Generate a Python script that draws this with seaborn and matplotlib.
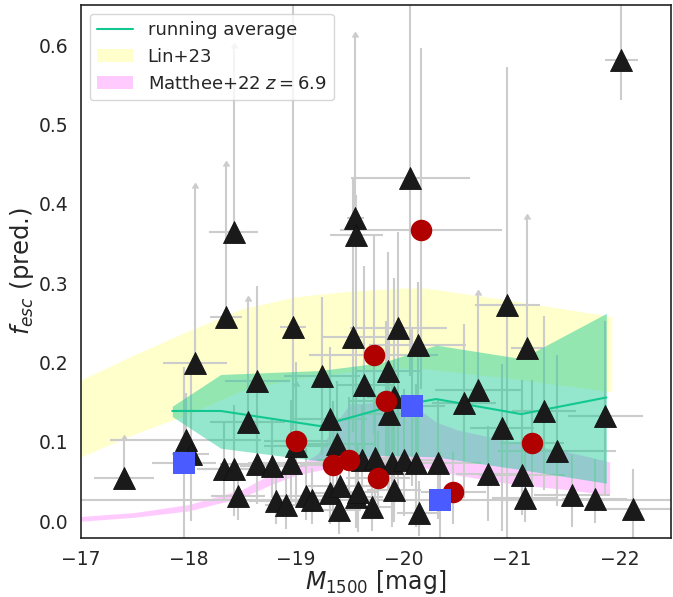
import numpy as np
import pandas as pd
import matplotlib
matplotlib.use("Agg")
import matplotlib.pyplot as plt
import seaborn as sns

# ---------------- data ----------------
# triangles (main sample)
tri_M = [-17.40, -17.975, -18.02, -18.06, -18.33, -18.35, -18.42, -18.42, -18.46, -18.55,
         -18.64, -18.64, -18.78, -18.81, -18.91, -18.95, -18.97, -19.00, -19.09, -19.15,
         -19.24, -19.31, -19.31, -19.38, -19.40, -19.41, -19.53, -19.55, -19.56, -19.56,
         -19.57, -19.61, -19.63, -19.70, -19.73, -19.85, -19.86, -19.89, -19.91, -19.91,
         -19.95, -20.00, -20.06, -20.11, -20.13, -20.14, -20.32, -20.56, -20.69, -20.78,
         -20.91, -20.96, -21.10, -21.12, -21.14, -21.30, -21.42, -21.56, -21.77, -21.87,
         -22.02, -22.13]
tri_f = [0.055, 0.102, 0.085, 0.200, 0.066, 0.257, 0.066, 0.365, 0.032, 0.125,
         0.177, 0.072, 0.069, 0.026, 0.020, 0.073, 0.245, 0.095, 0.032, 0.027,
         0.183, 0.129, 0.036, 0.097, 0.014, 0.045, 0.232, 0.382, 0.361, 0.031,
         0.037, 0.077, 0.172, 0.018, 0.080, 0.189, 0.135, 0.073, 0.156, 0.039,
         0.244, 0.077, 0.433, 0.073, 0.222, 0.011, 0.073, 0.149, 0.165, 0.060,
         0.118, 0.272, 0.058, 0.029, 0.218, 0.139, 0.089, 0.033, 0.028, 0.133,
         0.581, 0.016]
tri_Merr = [0.28, 0.70, 0.17, 0.30, 0.25, 0.15, 0.30, 0.23, 0.25, 0.35,
            0.30, 0.35, 0.30, 0.25, 0.20, 0.40, 0.12, 0.30, 0.25, 0.20,
            0.35, 0.35, 0.25, 0.35, 0.20, 0.30, 0.30, 0.08, 0.25, 0.25,
            0.20, 0.30, 0.25, 0.20, 0.30, 0.30, 0.25, 0.30, 0.25, 0.25,
            0.45, 0.30, 0.55, 0.30, 0.45, 0.20, 0.40, 0.30, 0.40, 0.30,
            0.30, 0.30, 0.40, 0.30, 0.15, 0.30, 0.55, 0.35, 0.30, 0.35,
            0.15, 0.35]
tri_flo = [0.000, 0.030, 0.085, 0.000, 0.040, 0.000, 0.060, 0.000, 0.030, 0.000,
           0.080, 0.050, 0.040, 0.030, 0.030, 0.050, 0.130, 0.000, 0.030, 0.030,
           0.100, 0.080, 0.040, 0.060, 0.030, 0.040, 0.120, 0.000, 0.330, 0.040,
           0.050, 0.050, 0.100, 0.030, 0.060, 0.150, 0.100, 0.080, 0.150, 0.040,
           0.200, 0.070, 0.250, 0.080, 0.150, 0.030, 0.070, 0.120, 0.000, 0.060,
           0.130, 0.300, 0.050, 0.030, 0.000, 0.100, 0.070, 0.040, 0.030, 0.100,
           0.050, 0.040]
tri_fhi = [0.047, 0.060, 0.105, 0.220, 0.060, 0.191, 0.080, 0.232, 0.040, 0.152,
           0.120, 0.060, 0.060, 0.030, 0.050, 0.080, 0.420, 0.075, 0.060, 0.040,
           0.100, 0.090, 0.050, 0.080, 0.040, 0.060, 0.200, 0.229, 0.050, 0.050,
           0.060, 0.070, 0.150, 0.050, 0.080, 0.150, 0.100, 0.100, 0.150, 0.060,
           0.120, 0.090, 0.300, 0.100, 0.080, 0.040, 0.080, 0.100, 0.120, 0.060,
           0.080, 0.300, 0.120, 0.060, 0.163, 0.120, 0.120, 0.050, 0.050, 0.120,
           0.100, 0.050]
tri_lim = [1, 0, 0, 1, 0, 1, 0, 1, 0, 1,
           0, 0, 0, 0, 0, 0, 0, 1, 0, 0,
           0, 0, 0, 0, 0, 0, 0, 1, 0, 0,
           0, 0, 0, 0, 0, 0, 0, 0, 0, 0,
           0, 0, 0, 0, 0, 0, 0, 0, 1, 0,
           0, 0, 0, 0, 1, 0, 0, 0, 0, 0,
           0, 0]

# red circles
red_M = [-19.00, -19.34, -19.49, -19.72, -19.76, -19.83, -20.16, -20.46, -21.19]
red_f = [0.101, 0.071, 0.077, 0.210, 0.054, 0.152, 0.367, 0.037, 0.098]
red_Merr = [0.30, 0.30, 0.30, 0.60, 0.30, 0.35, 0.75, 0.30, 0.30]
red_flo = [0.080, 0.060, 0.060, 0.100, 0.050, 0.100, 0.200, 0.040, 0.080]
red_fhi = [0.100, 0.080, 0.080, 0.150, 0.060, 0.100, 0.230, 0.050, 0.080]

# blue squares
blue_M = [-17.96, -20.08, -20.34]
blue_f = [0.074, 0.145, 0.027]
blue_Merr = [0.30, 0.30, 3.60]
blue_flo = [0.120, 0.100, 0.050]
blue_fhi = [0.120, 0.100, 0.060]

# running average and its band
ra_M = [-17.85, -18.30, -19.22, -19.80, -20.30, -21.09, -21.88]
ra_f = [0.139, 0.139, 0.120, 0.142, 0.154, 0.135, 0.156]
ra_lo = [0.132, 0.092, 0.076, 0.083, 0.081, 0.065, 0.048]
ra_hi = [0.145, 0.185, 0.190, 0.200, 0.222, 0.205, 0.262]

# Lin+23 band
lin_M = [-17.0, -17.5, -18.0, -18.5, -19.0, -19.5, -20.0, -20.2, -21.0, -21.93]
lin_lo = [0.081, 0.110, 0.135, 0.165, 0.180, 0.188, 0.193, 0.192, 0.180, 0.163]
lin_hi = [0.178, 0.210, 0.240, 0.268, 0.283, 0.290, 0.294, 0.294, 0.278, 0.258]

# Matthee+22 z=6.9 band
mat_M = [-17.0, -17.5, -18.0, -18.5, -18.8, -19.0, -19.2, -19.35, -19.5, -19.8,
         -20.1, -20.3, -20.5, -21.0, -21.5, -21.91]
mat_lo = [0.000, 0.005, 0.013, 0.030, 0.048, 0.058, 0.064, 0.067, 0.070, 0.071,
          0.070, 0.064, 0.058, 0.047, 0.040, 0.033]
mat_hi = [0.006, 0.011, 0.021, 0.040, 0.062, 0.068, 0.085, 0.120, 0.148, 0.150,
          0.145, 0.125, 0.115, 0.100, 0.088, 0.075]

# ---------------- plot ----------------
sns.set_theme(style="white")
plt.rcParams['font.family'] = ['DejaVu Sans']
plt.rcParams['mathtext.fontset'] = 'dejavusans'

fig = plt.figure(figsize=(6.73, 5.97), dpi=100)
ax = fig.add_axes([0.120, 0.099, 0.877, 0.893])

green = '#12c890'
ax.fill_between(lin_M, lin_lo, lin_hi, color='#ffff99', alpha=0.5, lw=0,
                zorder=1, label='Lin+23')
ax.fill_between(mat_M, mat_lo, mat_hi, color='#ff99ff', alpha=0.5, lw=0,
                zorder=1, label='Matthee+22 $z=6.9$')

ecol = '#cccccc'


def style_caps(cont):
    for cl in cont.lines[1]:
        cl.set_markerfacecolor(ecol)
        cl.set_markeredgecolor(ecol)
        cl.set_color(ecol)
        cl.set_markersize(5)


lims = np.array(tri_lim, dtype=bool)
for sel, lolim in ((~lims, False), (lims, True)):
    c = ax.errorbar(np.array(tri_M)[sel], np.array(tri_f)[sel],
                    xerr=np.array(tri_Merr)[sel],
                    yerr=[np.array(tri_flo)[sel], np.array(tri_fhi)[sel]],
                    fmt='none', ecolor=ecol, elinewidth=1.5, lolims=lolim,
                    zorder=2)
    style_caps(c)
c = ax.errorbar(red_M, red_f, xerr=red_Merr, yerr=[red_flo, red_fhi], fmt='none',
                ecolor=ecol, elinewidth=1.5, zorder=2)
style_caps(c)
c = ax.errorbar(blue_M, blue_f, xerr=blue_Merr, yerr=[blue_flo, blue_fhi], fmt='none',
                ecolor=ecol, elinewidth=1.5, zorder=2)
style_caps(c)

ax.fill_between(ra_M, ra_lo, ra_hi, color=green, alpha=0.45, lw=0, zorder=3)
sns.lineplot(x=ra_M, y=ra_f, color=green, lw=1.5, ax=ax, zorder=4,
             label='running average', sort=False)

sns.scatterplot(x=tri_M, y=tri_f, marker='^', s=250, color='#1a1a1a',
                edgecolor='#111111', linewidth=0.6, ax=ax, zorder=5, legend=False)
sns.scatterplot(x=red_M, y=red_f, marker='o', s=240, color='#b00000',
                edgecolor='#b00000', linewidth=0, ax=ax, zorder=5, legend=False)
sns.scatterplot(x=blue_M, y=blue_f, marker='s', s=240, color='#4a5cff',
                edgecolor='#4a5cff', linewidth=0, ax=ax, zorder=5, legend=False)

ax.set_xlim(-17, -22.48)
ax.set_ylim(-0.021, 0.651)
ax.set_xticks([-17, -18, -19, -20, -21, -22])
ax.set_yticks([0.0, 0.1, 0.2, 0.3, 0.4, 0.5, 0.6])
ax.tick_params(labelsize=13.5, pad=3)
ax.set_xlabel('$M_{1500}$ [mag]', fontsize=17, labelpad=-1)
ax.set_ylabel('$f_{esc}$ (pred.)', fontsize=17.5, labelpad=2)
for s in ax.spines.values():
    s.set_color('#222222')
    s.set_linewidth(1.2)

h, l = ax.get_legend_handles_labels()
order = [l.index('running average'), l.index('Lin+23'), l.index('Matthee+22 $z=6.9$')]
ax.legend([h[i] for i in order], [l[i] for i in order], loc='upper left',
          fontsize=13, frameon=True)

fig.savefig('out.png', dpi=100)
